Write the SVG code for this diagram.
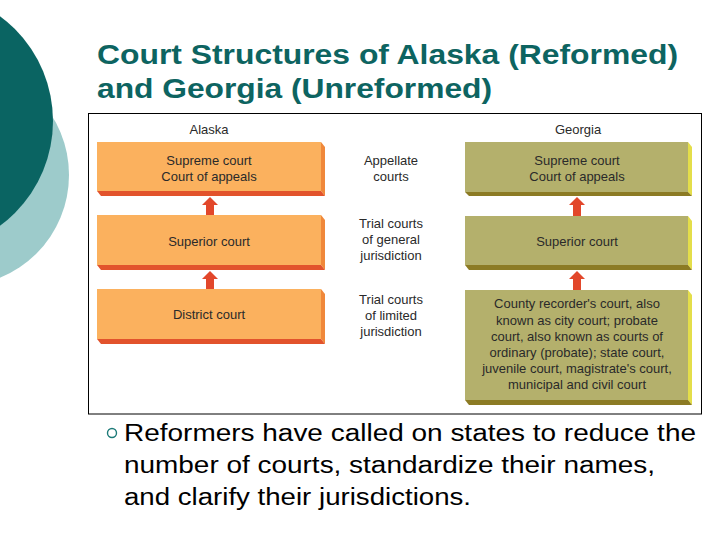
<svg xmlns="http://www.w3.org/2000/svg" width="720" height="540" viewBox="0 0 720 540">
<style>
.title{font-family:"Liberation Sans",Arial,sans-serif;font-weight:bold;font-size:28px;fill:#0d6461}
.body{font-family:"Liberation Sans",Arial,sans-serif;font-size:23px;fill:#000}
.lbl{font-family:"Liberation Sans",Arial,sans-serif;font-size:13px;fill:#2a2a2a;text-anchor:middle}
.of{fill:#fbb15e}.os{fill:#f0883a}.ob{fill:#e2532c}
.gf{fill:#b4b06c}.gs{fill:#e4de4a}.gb{fill:#8c7b24}
.arr{fill:#e2472b}
</style>
<circle cx="-42" cy="175" r="111" fill="#9dcbcb"/>
<circle cx="-77" cy="121" r="130" fill="#0a6462"/>
<text class="title" x="97" y="64" textLength="581" lengthAdjust="spacingAndGlyphs">Court Structures of Alaska (Reformed)</text>
<text class="title" x="97" y="98" textLength="395" lengthAdjust="spacingAndGlyphs">and Georgia (Unreformed)</text>
<rect x="88.5" y="113.5" width="613" height="300.5" fill="#fff" stroke="#000" stroke-width="1"/>
<text class="lbl" x="209" y="134">Alaska</text>
<text class="lbl" x="578" y="134">Georgia</text>
<g id="mid-labels">
<text class="lbl" x="391" y="165">Appellate</text>
<text class="lbl" x="391" y="181">courts</text>
<text class="lbl" x="391" y="228">Trial courts</text>
<text class="lbl" x="391" y="244">of general</text>
<text class="lbl" x="391" y="260">jurisdiction</text>
<text class="lbl" x="391" y="304">Trial courts</text>
<text class="lbl" x="391" y="320">of limited</text>
<text class="lbl" x="391" y="336">jurisdiction</text>
</g>
<g id="ak-supreme">
<polygon class="os" points="321,142 325,147 325,196 321,191"/>
<polygon class="ob" points="97,191 321,191 325,196 101,196"/>
<rect class="of" x="97" y="142" width="224" height="49"/>
<text class="lbl" x="209" y="165">Supreme court</text>
<text class="lbl" x="209" y="181">Court of appeals</text>
</g>
<g id="ak-superior">
<polygon class="os" points="321,215 325,220 325,270 321,265"/>
<polygon class="ob" points="97,265 321,265 325,270 101,270"/>
<rect class="of" x="97" y="215" width="224" height="50"/>
<text class="lbl" x="209" y="246">Superior court</text>
</g>
<g id="ak-district">
<polygon class="os" points="321,289 325,294 325,344 321,339"/>
<polygon class="ob" points="97,339 321,339 325,344 101,344"/>
<rect class="of" x="97" y="289" width="224" height="50"/>
<text class="lbl" x="209" y="319">District court</text>
</g>
<g id="ga-supreme">
<polygon class="gs" points="688,142 692,147 692,196 688,192"/>
<polygon class="gb" points="465,192 688,192 692,196 469,196"/>
<rect class="gf" x="465" y="142" width="223" height="50"/>
<text class="lbl" x="577" y="165">Supreme court</text>
<text class="lbl" x="577" y="181">Court of appeals</text>
</g>
<g id="ga-superior">
<polygon class="gs" points="688,216 692,221 692,270 688,265"/>
<polygon class="gb" points="465,265 688,265 692,270 469,270"/>
<rect class="gf" x="465" y="216" width="223" height="49"/>
<text class="lbl" x="577" y="246">Superior court</text>
</g>
<g id="ga-limited">
<polygon class="gs" points="688,290 692,295 692,405 688,400"/>
<polygon class="gb" points="465,400 688,400 692,405 469,405"/>
<rect class="gf" x="465" y="290" width="223" height="110"/>
<text class="lbl" x="577" y="308">County recorder's court, also</text>
<text class="lbl" x="577" y="325">known as city court; probate</text>
<text class="lbl" x="577" y="341">court, also known as courts of</text>
<text class="lbl" x="577" y="357">ordinary (probate); state court,</text>
<text class="lbl" x="577" y="373">juvenile court, magistrate's court,</text>
<text class="lbl" x="577" y="389">municipal and civil court</text>
</g>
<g id="connectors">
<polygon class="arr" points="210,197 218,205 214,205 214,215 206,215 206,205 202,205"/>
<polygon class="arr" points="210,271 218,279 214,279 214,289 206,289 206,279 202,279"/>
<polygon class="arr" points="577,197 585,205 581,205 581,216 573,216 573,205 569,205"/>
<polygon class="arr" points="577,271 585,279 581,279 581,290 573,290 573,279 569,279"/>
</g>
<circle cx="112" cy="433" r="4.5" fill="none" stroke="#1c7a78" stroke-width="1.4"/>
<text class="body" x="124" y="441" textLength="572" lengthAdjust="spacingAndGlyphs">Reformers have called on states to reduce the</text>
<text class="body" x="124" y="473" textLength="531" lengthAdjust="spacingAndGlyphs">number of courts, standardize their names,</text>
<text class="body" x="124" y="505" textLength="347" lengthAdjust="spacingAndGlyphs">and clarify their jurisdictions.</text>
</svg>
